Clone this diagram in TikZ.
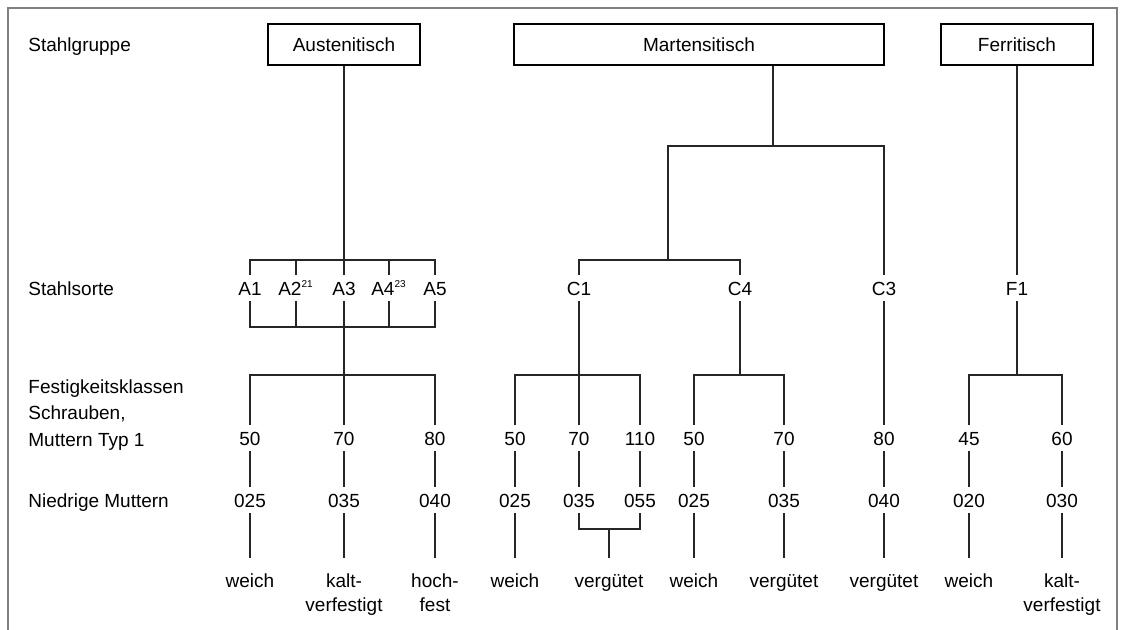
\documentclass[tikz,border=0pt]{standalone}
\usepackage{fontspec}
\setmainfont{Liberation Sans}
\usetikzlibrary{calc}

\begin{document}
\begin{tikzpicture}[x=0.5pt, y=-0.5pt,
  every node/.style={font=\fontsize{9.5}{12}\selectfont},
  line/.style={line width=0.6pt, black!85},
  grp/.style={draw, line width=0.6pt, minimum width=76pt, minimum height=20.5pt, inner sep=0pt},
  val/.style={inner xsep=1pt, inner ysep=3pt, text height=7pt, text depth=0pt},
  lab/.style={anchor=base west, inner sep=0pt},
  bot/.style={anchor=north, inner xsep=0pt, inner ysep=7.5pt, align=center, execute at begin node={\rule{0pt}{7pt}}}]

\useasboundingbox (0,0) rectangle (1121,629);
\draw[black!50, line width=1pt] (8,640) -- (8,8) -- (1117,8) -- (1117,640);

\node[lab] (sg) at (28,51) {Stahlgruppe};
\node[lab] (ss) at (28,295) {Stahlsorte};
\node[anchor=north west, inner sep=0pt, align=left, font=\fontsize{9.5}{13.25}\selectfont] (fk) at (28,379) {Festigkeitsklassen\\Schrauben,\\Muttern Typ 1};
\node[lab] (nm) at (28,507) {Niedrige Muttern};

\node[grp] (aust) at (344,44.5) {Austenitisch};
\node[grp, minimum width=185pt] (mart) at (699,44.5) {Martensitisch};
\node[grp] (ferr) at (1017,44.5) {Ferritisch};

\node[val] (A1) at (250,288) {A1};
\node[val] (A2) at (296,288) {A2\textsuperscript{\tiny 21}};
\node[val] (A3) at (344,288) {A3};
\node[val] (A4) at (389,288) {A4\textsuperscript{\tiny 23}};
\node[val] (A5) at (435,288) {A5};
\node[val] (C1) at (579,288) {C1};
\node[val] (C4) at (740,288) {C4};
\node[val] (C3) at (884,288) {C3};
\node[val] (F1) at (1017,288) {F1};

\node[val] (k1) at (250,438) {50};
\node[val] (k2) at (344,438) {70};
\node[val] (k3) at (435,438) {80};
\node[val] (k4) at (515,438) {50};
\node[val] (k5) at (579,438) {70};
\node[val] (k6) at (640,438) {110};
\node[val] (k7) at (694,438) {50};
\node[val] (k8) at (784,438) {70};
\node[val] (k9) at (884,438) {80};
\node[val] (k10) at (969,438) {45};
\node[val] (k11) at (1062,438) {60};

\node[val] (m1) at (250,500) {025};
\node[val] (m2) at (344,500) {035};
\node[val] (m3) at (435,500) {040};
\node[val] (m4) at (515,500) {025};
\node[val] (m5) at (579,500) {035};
\node[val] (m6) at (640,500) {055};
\node[val] (m7) at (694,500) {025};
\node[val] (m8) at (784,500) {035};
\node[val] (m9) at (884,500) {040};
\node[val] (m10) at (969,500) {020};
\node[val] (m11) at (1062,500) {030};

\node[bot] (e1) at (250,558) {weich};
\node[bot] (e2) at (344,558) {kalt-\\verfestigt};
\node[bot] (e3) at (435,558) {hoch-\\fest};
\node[bot] (e4) at (515,558) {weich};
\node[bot] (e5) at (609,558) {vergütet};
\node[bot] (e6) at (694,558) {weich};
\node[bot] (e7) at (784,558) {vergütet};
\node[bot] (e8) at (884,558) {vergütet};
\node[bot] (e9) at (969,558) {weich};
\node[bot] (e10) at (1062,558) {kalt-\\verfestigt};

\coordinate (a1) at (344,260);
\coordinate (a2) at (344,327);
\coordinate (a3) at (344,375);
\coordinate (c1) at (773,146);
\coordinate (c2) at (668,260);
\coordinate (c3) at (579,375);
\coordinate (c4) at (740,375);
\coordinate (f1) at (1017,375);
\coordinate (v) at (609,529);

\draw[line] (aust) -- (A3) (A3) -- (k2);
\draw[line] (A1) |- (a1) -| (A5) (A1) |- (a2) -| (A5);
\draw[line] (A2) -- (A2 |- a1) (A4) -- (A4 |- a1) (A2) -- (A2 |- a2) (A4) -- (A4 |- a2);
\draw[line] (k1) |- (a3) -| (k3);

\draw[line] (mart.south -| c1) -- (c1);
\draw[line] (c2) |- (c1) -| (C3);
\draw[line] (C1) |- (c2) -| (C4);
\draw[line] (C1) -- (k5) (C4) -- (c4) (C3) -- (k9);
\draw[line] (k4) |- (c3) -| (k6);
\draw[line] (k7) |- (c4) -| (k8);

\draw[line] (ferr) -- (F1) (F1) -- (f1);
\draw[line] (k10) |- (f1) -| (k11);

\draw[line] (k1) -- (m1) (k2) -- (m2) (k3) -- (m3) (k4) -- (m4) (k5) -- (m5) (k6) -- (m6) (k7) -- (m7) (k8) -- (m8) (k9) -- (m9) (k10) -- (m10) (k11) -- (m11);
\draw[line] (m1) -- (e1) (m2) -- (e2) (m3) -- (e3) (m4) -- (e4) (m7) -- (e6) (m8) -- (e7) (m9) -- (e8) (m10) -- (e9) (m11) -- (e10);
\draw[line] (m5) |- (v) -| (m6);
\draw[line] (v) -- (e5);

\end{tikzpicture}
\end{document}
